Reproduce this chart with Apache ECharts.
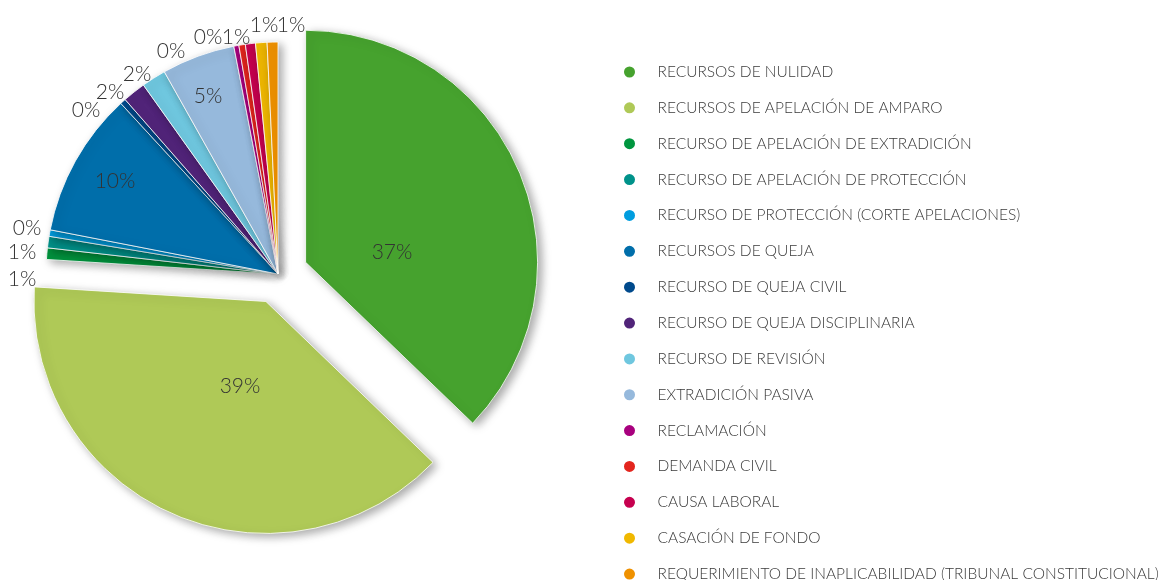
<!DOCTYPE html>
<html>
<head>
<meta charset="utf-8">
<script src="https://cdn.jsdelivr.net/npm/echarts@6/dist/echarts.min.js"></script>
<style>
  html, body { margin: 0; padding: 0; background: #ffffff; }
  #chart { width: 1161px; height: 580px; }
</style>
</head>
<body>
<div id="chart"></div>
<script>
// Categories (legend order = slice order, clockwise from 12 o'clock)
const categories = [
  'RECURSOS DE NULIDAD',
  'RECURSOS DE APELACIÓN DE AMPARO',
  'RECURSO DE APELACIÓN DE EXTRADICIÓN',
  'RECURSO DE APELACIÓN DE PROTECCIÓN',
  'RECURSO DE PROTECCIÓN (CORTE APELACIONES)',
  'RECURSOS DE QUEJA',
  'RECURSO DE QUEJA CIVIL',
  'RECURSO DE QUEJA DISCIPLINARIA',
  'RECURSO DE REVISIÓN',
  'EXTRADICIÓN PASIVA',
  'RECLAMACIÓN',
  'DEMANDA CIVIL',
  'CAUSA LABORAL',
  'CASACIÓN DE FONDO',
  'REQUERIMIENTO DE INAPLICABILIDAD (TRIBUNAL CONSTITUCIONAL)'
];

// Share of each category, in percent (labels show them rounded)
const shares = [37.2, 38.8, 0.8, 0.8, 0.45, 10.1, 0.4, 1.6, 1.7, 5.1, 0.35, 0.45, 0.7, 0.8, 0.75];

const colors = [
  '#46a22e', '#afc957', '#00963f', '#00928a', '#009ddf',
  '#006eaa', '#004a8c', '#512479', '#6fc7df', '#96b9dc',
  '#a8007e', '#e3251e', '#c6004f', '#f0b800', '#ef9100'
];

// Slices pulled out of the pie
const exploded = ['RECURSOS DE NULIDAD', 'RECURSOS DE APELACIÓN DE AMPARO'];

// Where each percentage label is centred (layout only)
const labelSpots = [
  [392, 252], [240, 386], [22, 279], [22, 252], [27, 228],
  [115, 181], [86, 110], [110, 92], [137, 74], [208, 96],
  [171, 51], [208, 37], [236, 37], [264, 25], [291, 25]
];

const pieCenter = [278, 274];
const pieRadius = 232;

const chart = echarts.init(document.getElementById('chart'), null, { renderer: 'canvas' });

chart.setOption({
  animation: false,
  color: colors,
  legend: {
    orient: 'vertical',
    left: 622,
    top: 64,
    height: 600,
    padding: 0,
    icon: 'circle',
    itemWidth: 46,
    itemHeight: 13,
    itemGap: 19.86,
    selectedMode: false,
    textStyle: {
      fontFamily: 'Lato',
      fontSize: 15.5,
      fontWeight: 300,
      color: '#3a3a3a'
    },
    data: categories
  },
  series: [
    // The wedges
    {
      type: 'pie',
      center: pieCenter,
      radius: pieRadius,
      startAngle: 90,
      clockwise: true,
      selectedMode: 'multiple',
      selectedOffset: 30,
      itemStyle: {
        borderColor: '#ffffff',
        borderWidth: 0.8,
        shadowBlur: 10,
        shadowColor: 'rgba(0,0,0,0.35)',
        shadowOffsetX: 4,
        shadowOffsetY: 3
      },
      select: { itemStyle: { borderColor: '#ffffff' } },
      label: { show: false },
      labelLine: { show: false },
      emphasis: { disabled: true },
      data: categories.map((name, i) => ({
        name: name,
        value: shares[i],
        selected: exploded.includes(name)
      }))
    },
    // Percentage labels, laid over the wedges
    {
      type: 'pie',
      center: pieCenter,
      radius: pieRadius,
      startAngle: 90,
      clockwise: true,
      silent: true,
      selectedMode: false,
      avoidLabelOverlap: false,
      itemStyle: { color: 'rgba(0,0,0,0)', borderWidth: 0 },
      label: {
        position: 'outside',
        formatter: p => Math.round(p.percent) + '%',
        fontFamily: 'Lato',
        fontSize: 21,
        fontWeight: 300,
        color: '#333333'
      },
      labelLine: { show: false },
      labelLayout: p => ({
        x: labelSpots[p.dataIndex][0],
        y: labelSpots[p.dataIndex][1],
        align: 'center',
        verticalAlign: 'middle',
        hideOverlap: false
      }),
      emphasis: { disabled: true },
      data: categories.map((name, i) => ({ name: name, value: shares[i] }))
    }
  ]
});
</script>
</body>
</html>
